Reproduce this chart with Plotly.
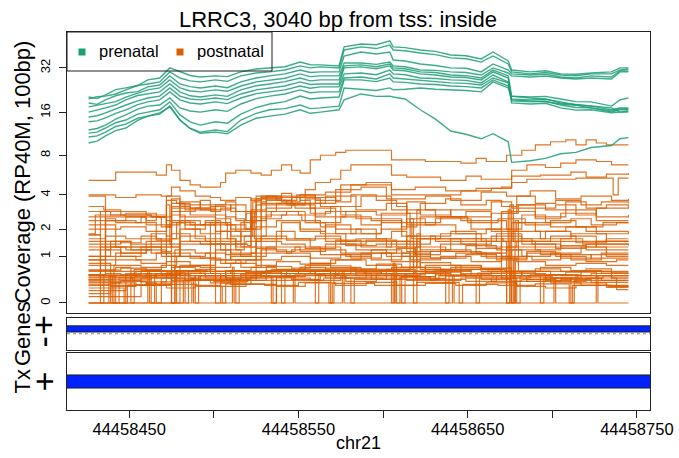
import math
import plotly.graph_objects as go

# ---------------- data ----------------
region_base = 44458400          # positions below are offsets from this base (bp)
chrom = "chr21"
title_text = "LRRC3, 3040 bp from tss: inside"
region_start_off = 26
region_end_off = 345

cov_ticks = [0, 1, 2, 4, 8, 16, 32]
pos_ticks = [44458450, 44458500, 44458550, 44458600, 44458650, 44458700, 44458750]
pos_tick_labels = ["44458450", "", "44458550", "", "44458650", "", "44458750"]

# prenatal coverage (RP40M, 100bp), sampled along the region
prenatal_pos = [26, 31, 36, 42, 48, 55, 61, 68, 74, 80, 86, 92, 101, 108, 116, 125, 133, 142, 151, 157,
                163, 174, 177, 187, 196, 204, 206, 213, 222, 231, 240, 249, 258, 265, 274, 276, 287, 296,
                305, 314, 323, 335, 340, 345]
prenatal_cov = [
    [20.4, 19.9, 21.1, 22.9, 23.5, 24.4, 26.6, 27.4, 32.0, 30.1, 28.5, 27.8, 28.3, 28.0, 30.1, 31.5, 32.0, 32.6, 35.0, 33.6,
     33.5, 33.0, 44.1, 46.1, 45.6, 48.3, 44.1, 43.6, 42.1, 41.2, 39.0, 38.5, 36.7, 40.8, 35.6, 31.0, 30.1, 30.6,
     29.2, 29.0, 29.6, 30.1, 32.0, 32.0],
    [19.8, 20.5, 20.7, 21.4, 22.8, 24.4, 25.0, 25.8, 30.1, 27.4, 26.2, 25.8, 26.6, 26.0, 28.3, 29.6, 30.1, 31.0, 33.0, 32.0,
     32.5, 32.0, 42.1, 44.1, 43.0, 45.4, 42.1, 41.6, 40.2, 39.2, 37.3, 36.8, 35.0, 38.4, 34.0, 30.1, 29.2, 29.8,
     28.7, 28.4, 29.2, 29.2, 31.0, 31.5],
    [18.6, 18.2, 19.5, 20.8, 21.7, 22.2, 23.9, 24.6, 28.3, 25.0, 24.0, 23.5, 24.2, 23.6, 25.8, 27.4, 28.3, 29.2, 31.0, 29.8,
     30.1, 30.1, 38.4, 40.8, 39.6, 40.8, 36.1, 35.6, 34.0, 33.2, 32.0, 31.8, 30.1, 34.0, 31.0, 29.2, 28.7, 29.0,
     27.8, 27.4, 28.3, 27.8, 30.5, 30.5],
    [17.5, 17.9, 18.3, 19.0, 20.4, 21.8, 22.8, 23.5, 26.6, 23.5, 22.4, 22.1, 22.8, 22.3, 24.2, 25.8, 26.6, 27.3, 29.2, 28.0,
     28.3, 28.3, 34.5, 34.5, 33.8, 35.0, 33.0, 32.6, 31.0, 30.8, 30.1, 29.8, 28.7, 32.0, 29.6, 28.3, 27.8, 28.2,
     27.4, 27.0, 27.4, 27.0, 30.1, 30.1],
    [16.1, 16.6, 17.2, 18.0, 19.5, 20.9, 21.4, 22.1, 25.0, 22.1, 20.8, 20.4, 21.1, 20.6, 22.8, 24.3, 25.0, 25.9, 27.4, 26.2,
     26.6, 26.6, 33.0, 33.5, 32.6, 34.0, 32.0, 31.6, 30.1, 29.8, 28.7, 28.4, 27.4, 31.0, 28.3, 20.7, 20.4, 20.6,
     19.8, 19.0, 18.9, 17.7, 19.5, 20.1],
    [14.9, 15.2, 15.9, 17.0, 18.0, 19.2, 20.1, 20.7, 23.5, 20.7, 19.8, 19.5, 20.1, 19.6, 21.4, 22.8, 23.5, 24.2, 25.8, 24.8,
     25.0, 25.0, 32.0, 32.5, 31.6, 33.0, 31.0, 30.6, 29.2, 28.7, 27.8, 27.6, 26.6, 30.1, 27.4, 19.8, 19.5, 19.7,
     18.9, 18.0, 17.7, 16.7, 17.2, 17.2],
    [13.8, 14.0, 14.7, 15.8, 16.7, 18.1, 18.9, 19.5, 22.1, 19.5, 18.6, 18.3, 18.9, 18.4, 20.1, 21.5, 22.1, 22.8, 24.2, 23.4,
     23.9, 23.9, 29.2, 29.6, 28.8, 31.0, 29.2, 28.8, 27.4, 27.2, 26.6, 26.4, 25.4, 28.7, 25.8, 19.2, 18.9, 19.1,
     18.0, 17.3, 17.2, 16.1, 16.7, 16.7],
    [12.1, 12.4, 13.1, 14.4, 15.4, 16.9, 17.7, 18.0, 20.1, 17.2, 16.4, 16.1, 16.7, 16.3, 18.3, 19.9, 20.7, 21.4, 22.8, 21.8,
     22.1, 22.1, 27.4, 27.8, 27.0, 29.2, 27.4, 27.0, 26.2, 26.0, 25.4, 25.2, 24.6, 27.4, 25.4, 18.6, 18.3, 18.5,
     17.2, 16.6, 16.7, 15.9, 16.1, 16.1],
    [11.5, 11.7, 12.5, 13.6, 14.2, 15.6, 16.1, 16.7, 18.9, 15.4, 13.8, 13.1, 13.8, 13.5, 15.6, 17.3, 18.3, 19.0, 20.7, 19.8,
     20.1, 20.4, 26.6, 26.6, 25.9, 27.4, 25.8, 25.6, 25.0, 24.8, 24.2, 24.0, 23.5, 26.6, 24.2, 20.7, 20.1, 19.8,
     18.6, 18.2, 17.7, 17.2, 16.1, 16.4],
    [10.8, 11.0, 11.7, 12.8, 13.3, 14.6, 15.1, 15.6, 17.7, 14.2, 12.4, 11.7, 12.1, 11.8, 14.2, 15.8, 16.7, 17.0, 18.0, 17.0,
     17.2, 17.7, 23.5, 23.1, 22.6, 23.5, 22.8, 23.0, 23.5, 23.0, 22.8, 22.6, 22.1, 25.8, 23.5, 19.5, 19.2, 19.0,
     18.3, 17.9, 17.2, 16.4, 17.0, 17.0],
    [9.8, 10.1, 11.0, 12.0, 12.5, 14.1, 15.1, 15.9, 17.5, 14.2, 12.4, 11.5, 11.7, 11.4, 13.1, 14.6, 15.1, 15.6, 16.7, 15.8,
     16.1, 16.7, 19.5, 21.4, 20.6, 20.7, 20.4, 19.8, 16.7, 14.4, 11.9, 11.3, 10.5, 11.4, 10.0, 7.1, 7.3, 7.6,
     8.2, 8.4, 9.1, 9.4, 10.5, 10.7],
]

# postnatal coverage: step breakpoints (offset bp, coverage)
postnatal_steps = [
    [(26,5.2),(42,6.0),(66,5.7),(72,6.8),(75,6.2),(80,5.2),(86,4.8),(92,4.6),(104,5.0),(107,5.9),(113,6.2),(122,5.9),(128,5.7),(134,6.2),(140,6.8),(146,6.2),(151,5.9),(157,7.4),(163,8.0),(172,8.4),(178,8.7),(205,7.4),(225,7.2),(246,7.0),(255,7.6),(261,7.2),(273,8.0),(282,8.7),(290,9.5),(299,10.0),(308,10.3),(314,9.5),(320,10.3),(326,9.8),(332,9.5),(345,9.5)],
    [(26,4.0),(42,3.8),(54,4.0),(69,3.9),(75,4.6),(80,4.3),(89,3.9),(98,3.8),(104,3.6),(113,3.8),(122,3.6),(128,3.9),(137,3.6),(146,3.8),(154,4.4),(160,5.0),(169,5.3),(175,6.2),(181,6.8),(205,5.7),(214,5.5),(234,5.2),(249,5.6),(258,5.3),(270,5.3),(276,6.2),(285,6.8),(296,6.5),(305,7.0),(314,7.4),(326,7.2),(335,6.8),(345,6.8)],
    [(26,3.2),(35,3.0),(45,2.7),(63,2.6),(75,3.4),(83,3.0),(101,3.3),(110,2.9),(122,3.7),(140,3.5),(151,4.0),(166,4.2),(181,4.8),(205,4.4),(219,4.6),(237,4.3),(255,4.5),(270,4.6),(276,5.6),(293,5.7),(311,6.0),(320,5.5),(332,5.8),(345,5.9)],
    [(26,2.9),(39,2.7),(48,2.8),(66,2.6),(72,3.6),(78,3.4),(86,3.1),(98,3.2),(107,2.6),(113,2.4),(119,2.8),(125,3.7),(140,3.9),(160,3.6),(175,4.8),(190,5.0),(205,4.0),(228,4.0),(246,4.3),(264,4.5),(276,5.0),(285,5.3),(314,5.4),(320,5.4),(336,4.0),(339,5.4),(345,5.4)],
    [(26,1.8),(30,2.7),(50,2.7),(63,2.6),(72,2.2),(80,3.5),(92,3.0),(110,3.3),(119,2.4),(128,3.8),(151,3.6),(157,2.8),(169,3.2),(187,3.9),(205,3.0),(222,2.7),(240,3.0),(264,3.5),(276,3.1),(302,3.3),(314,2.7),(326,3.1),(345,3.2)],
    [(26,1.75),(33,2.9),(60,2.7),(72,3.9),(80,2.6),(101,2.2),(119,2.0),(125,3.9),(140,4.1),(146,3.4),(166,3.9),(184,3.0),(202,3.4),(214,2.2),(231,2.5),(252,2.0),(270,2.9),(290,2.6),(308,3.0),(326,2.4),(345,2.4)],
    [(26,1.5),(36,2.5),(42,2.3),(57,2.6),(69,2.1),(75,3.2),(86,2.7),(101,2.5),(110,1.7),(116,2.3),(125,3.3),(148,3.1),(160,2.3),(175,2.6),(193,2.4),(211,1.7),(222,2.6),(246,2.4),(264,1.9),(279,2.3),(299,2.1),(320,1.9),(345,1.9)],
    [(26,1.4),(45,1.5),(51,1.3),(60,1.5),(75,2.7),(83,2.2),(95,2.4),(104,1.6),(113,1.3),(122,2.9),(137,3.4),(157,3.1),(172,2.0),(187,1.8),(199,2.3),(217,1.6),(234,1.8),(258,1.5),(276,1.9),(293,1.6),(311,1.8),(332,1.5),(345,1.5)],
    [(26,1.75),(30,1.75),(33,0.5),(36,2.4),(54,2.3),(66,1.6),(78,2.3),(89,1.6),(104,1.5),(116,1.7),(131,2.7),(143,2.9),(154,2.3),(166,1.5),(184,1.6),(202,1.3),(214,1.7),(231,1.5),(255,1.25),(270,1.6),(288,1.4),(305,1.3),(326,1.5),(345,1.5)],
    [(26,1.2),(39,1.3),(45,1.0),(57,1.3),(75,1.8),(86,1.5),(98,1.4),(110,1.1),(125,1.6),(140,2.3),(151,2.0),(163,1.8),(178,1.35),(196,1.4),(214,1.15),(234,1.4),(255,1.1),(273,1.3),(290,1.2),(305,1.35),(320,1.2),(345,1.2)],
    [(26,0.9),(42,1.1),(60,1.2),(72,1.0),(80,1.5),(92,1.4),(107,1.05),(122,1.3),(137,1.9),(148,1.6),(157,1.3),(175,1.1),(193,1.2),(211,1.0),(228,1.15),(249,1.35),(267,1.2),(282,1.0),(299,1.1),(317,1.3),(332,1.0),(345,1.0)],
    [(26,3.9),(33,3.9),(36,1.2),(45,1.1),(60,1.3),(69,1.15),(75,2.3),(83,2.0),(95,2.3),(110,2.0),(122,2.4),(131,3.1),(146,3.3),(160,2.6),(178,2.9),(196,2.7),(214,3.5),(225,3.0),(240,2.6),(264,2.8),(279,3.3),(290,2.5),(305,2.8),(326,2.6),(345,2.7)],
    [(26,2.6),(60,2.4),(66,2.6),(72,2.1),(75,3.1),(92,3.3),(107,3.5),(113,2.9),(122,2.0),(128,3.4),(146,3.8),(160,3.4),(172,4.4),(187,4.6),(202,3.7),(225,3.9),(240,3.6),(258,4.2),(273,3.9),(287,4.3),(302,3.7),(317,3.9),(335,3.6),(345,3.7)],
    [(26,0.52),(48,0.55),(63,0.5),(75,0.7),(89,0.65),(101,0.5),(116,0.55),(125,0.9),(140,1.0),(157,0.8),(172,0.9),(190,0.75),(208,0.6),(225,0.75),(246,0.55),(264,0.6),(282,0.5),(299,0.45),(317,0.5),(345,0.5)],
    [(26,0.47),(42,0.47),(54,0.6),(69,0.52),(80,0.75),(98,0.6),(107,0.45),(119,0.5),(131,0.62),(151,0.7),(166,0.6),(184,0.5),(202,0.65),(219,0.55),(240,0.7),(258,0.6),(276,0.55),(296,0.4),(311,0.45),(329,0.4),(345,0.4)],
    [(26,0.41),(39,0.41),(51,0.5),(66,0.45),(78,0.62),(92,0.55),(104,0.42),(116,0.47),(128,0.55),(143,0.6),(160,0.5),(178,0.45),(196,0.55),(214,0.48),(231,0.62),(252,0.5),(270,0.45),(287,0.52),(305,0.5),(323,0.55),(345,0.55)],
    [(26,0.37),(45,0.4),(57,0.37),(72,0.52),(86,0.45),(101,0.4),(113,0.0),(115,0.4),(131,0.47),(148,0.52),(166,0.45),(181,0.0),(183,0.42),(202,0.5),(219,0.44),(237,0.5),(258,0.42),(276,0.0),(278,0.38),(296,0.45),(314,0.35),(332,0.3),(345,0.3)],
    [(26,0.31),(39,0.35),(54,0.31),(69,0.45),(83,0.4),(98,0.35),(110,0.4),(125,0.6),(140,0.55),(157,0.62),(172,0.52),(190,0.6),(208,0.52),(225,0.58),(246,0.52),(264,0.5),(282,0.6),(299,0.52),(317,0.6),(335,0.45),(345,0.45)],
    [(26,0.2),(42,0.2),(48,0.52),(66,0.5),(78,0.56),(95,0.5),(107,0.62),(122,0.7),(137,0.64),(154,0.75),(169,0.7),(187,0.62),(205,0.7),(222,0.82),(240,0.75),(258,0.68),(276,0.6),(293,0.7),(311,0.62),(329,0.56),(345,0.56)],
    [(26,0.8),(36,0.8),(39,0.0),(41,0.75),(57,0.7),(72,0.85),(86,0.75),(101,0.9),(116,0.7),(128,1.1),(146,1.2),(163,1.05),(181,0.95),(199,1.1),(216,0.9),(234,1.0),(252,0.85),(270,1.0),(288,0.9),(305,1.05),(323,0.95),(345,0.95)],
    [(26,0.63),(45,0.68),(60,0.6),(75,0.0),(77,0.72),(92,0.7),(110,0.8),(125,0.75),(137,0.85),(151,0.78),(169,0.9),(187,1.1),(205,0.85),(222,0.95),(243,1.1),(261,0.95),(279,0.85),(296,0.75),(314,0.8),(332,0.75),(345,0.75)],
    [(26,0.1),(54,0.1),(57,0.45),(75,0.4),(92,0.5),(107,0.42),(122,0.5),(134,0.0),(137,0.48),(154,0.55),(172,0.45),(190,0.52),(208,0.0),(210,0.47),(228,0.4),(246,0.45),(264,0.38),(282,0.42),(299,0.35),(317,0.3),(335,0.28),(345,0.28)],
    [(26,0.0),(45,0.0),(48,0.3),(60,0.35),(66,0.0),(69,0.37),(86,0.42),(104,0.35),(119,0.45),(131,0.5),(146,0.42),(163,0.5),(178,0.38),(196,0.45),(214,0.4),(231,0.52),(249,0.45),(267,0.5),(285,0.42),(302,0.38),(320,0.45),(338,0.22),(345,0.22)],
    [(26,0.0),(37,0.0),(38,0.5),(40,0.0),(60,0.0),(61,0.6),(62,0.0),(86,0.0),(87,0.45),(88,0.0),(110,0.0),(111,0.7),(112,0.0),(146,0.0),(147,0.5),(148,0.0),(175,0.0),(176,0.6),(177,0.0),(205,0.0),(206,0.8),(207,0.0),(240,0.0),(241,0.5),(242,0.0),(276,0.0),(277,0.9),(278,0.0),(300,0.0),(301,0.45),(302,0.0),(325,0.0),(326,0.5),(327,0.0),(345,0.0)],
    [(26,0.52),(33,0.0),(35,0.5),(54,0.48),(63,0.0),(65,0.52),(78,0.0),(80,0.55),(95,0.5),(101,0.0),(104,0.5),(128,0.58),(140,0.0),(142,0.55),(160,0.6),(169,0.0),(171,0.55),(193,0.5),(211,0.0),(213,0.55),(234,0.5),(255,0.0),(257,0.5),(273,0.45),(279,0.0),(281,0.5),(299,0.45),(311,0.0),(313,0.4),(345,0.4)],
    [(26,1.0),(36,1.0),(39,1.5),(51,1.4),(63,1.6),(69,1.0),(80,1.7),(95,1.5),(104,1.2),(110,0.9),(125,1.5),(140,1.4),(154,1.25),(172,1.55),(187,1.3),(205,1.5),(222,1.2),(240,1.6),(261,1.3),(279,1.5),(299,1.7),(314,1.45),(332,1.6),(345,1.6)],
    [(26,0.75),(42,0.9),(57,0.8),(72,1.1),(86,0.95),(101,1.2),(116,1.0),(131,1.3),(151,1.15),(166,1.4),(184,1.2),(202,1.0),(219,1.3),(237,1.15),(258,1.0),(276,1.2),(293,1.05),(311,0.9),(329,1.1),(345,1.1)],
    [(26,2.2),(36,2.2),(42,1.3),(51,1.2),(63,1.4),(75,1.3),(80,2.0),(92,1.8),(104,1.9),(116,1.3),(125,2.1),(137,2.4),(151,1.9),(166,2.2),(181,1.8),(199,2.0),(214,2.5),(225,2.2),(243,1.8),(261,2.0),(276,2.3),(290,1.9),(308,2.1),(326,1.8),(345,1.9)],
    [(26,1.0),(45,1.0),(54,0.9),(66,1.1),(75,0.0),(77,1.2),(89,1.1),(98,0.9),(110,1.0),(122,1.1),(128,1.7),(143,1.55),(160,1.7),(175,1.4),(190,1.55),(208,1.3),(222,1.6),(246,1.4),(264,1.7),(282,1.4),(302,1.25),(320,1.4),(345,1.35)],
    [(26,0.41),(30,0.41),(33,1.3),(48,1.2),(63,1.1),(72,1.3),(80,1.0),(95,1.1),(107,0.8),(119,0.9),(128,1.2),(143,1.1),(157,0.95),(175,1.05),(193,0.9),(211,1.1),(228,0.95),(249,1.05),(267,0.9),(285,1.1),(305,0.95),(323,1.05),(345,1.05)],
    [(26,0.35),(45,0.38),(60,0.33),(75,0.45),(92,0.4),(110,0.32),(122,0.4),(137,0.45),(157,0.4),(175,0.5),(193,0.42),(211,0.48),(231,0.42),(249,0.38),(267,0.45),(285,0.38),(305,0.42),(323,0.36),(345,0.36)],
    [(26,0.45),(39,0.5),(51,0.45),(66,0.55),(80,0.5),(95,0.45),(107,0.5),(119,0.58),(134,0.65),(148,0.6),(166,0.68),(184,0.58),(199,0.62),(216,0.7),(234,0.6),(252,0.65),(270,0.58),(290,0.52),(308,0.58),(326,0.5),(345,0.5)],
    [(26,0.15),(36,0.15),(39,0.28),(54,0.3),(72,0.25),(89,0.3),(104,0.28),(119,0.32),(137,0.28),(154,0.35),(172,0.3),(190,0.36),(208,0.3),(225,0.34),(243,0.3),(261,0.35),(279,0.28),(296,0.25),(314,0.3),(332,0.26),(345,0.26)],
    [(26,0.5),(42,0.0),(44,0.45),(60,0.55),(75,0.5),(89,0.0),(91,0.5),(107,0.45),(125,0.55),(143,0.5),(160,0.0),(162,0.55),(181,0.6),(199,0.55),(219,0.6),(237,0.0),(239,0.5),(258,0.55),(276,0.5),(293,0.0),(295,0.45),(314,0.5),(335,0.45),(345,0.45)],
    [(26,0.6),(60,0.62),(96,0.6),(98,2.3),(101,0.6),(150,0.65),(215,0.65),(216,2.5),(218,0.7),(220,1.8),(222,0.65),(272,0.6),(274,3.0),(276,0.0),(278,2.4),(280,0.6),(345,0.6)],
    [(26,1.3),(70,1.3),(72,3.3),(74,1.4),(120,1.35),(122,2.9),(124,1.6),(175,1.5),(217,1.5),(218,0.0),(220,1.6),(271,1.5),(273,0.0),(275,3.3),(277,1.5),(345,1.5)],
    [(26,2.4),(40,2.4),(48,2.6),(60,2.2),(75,3.7),(80,3.3),(92,3.6),(98,2.9),(104,3.1),(113,2.5),(118,2.0),(123,3.5),(131,3.9),(140,3.6),(149,4.0),(160,3.8),(172,3.5),(181,4.0),(196,3.6),(208,3.2),(214,2.8),(222,3.4),(237,3.7),(246,3.3),(261,3.6),(270,3.2),(279,3.9),(290,3.4),(302,3.6),(317,3.3),(329,3.5),(345,3.4)],
    [(26,1.6),(36,1.7),(48,1.6),(63,1.8),(72,1.7),(75,2.9),(89,3.1),(101,2.7),(107,2.2),(113,1.9),(122,3.0),(131,3.6),(143,3.3),(154,3.7),(163,3.2),(175,2.7),(187,2.2),(199,2.5),(211,2.1),(220,3.0),(231,2.6),(249,2.9),(264,2.4),(273,2.0),(282,2.7),(296,2.3),(311,2.5),(323,2.2),(338,2.3),(345,2.3)],
    [(26,0.9),(33,0.9),(36,1.5),(45,1.45),(57,1.7),(66,1.55),(75,1.6),(80,2.4),(92,2.2),(101,1.9),(110,1.4),(119,1.5),(128,2.5),(140,2.7),(152,2.4),(163,2.1),(172,1.8),(184,2.0),(196,1.6),(205,1.9),(214,1.4),(228,1.7),(240,1.9),(255,1.5),(267,1.8),(282,1.6),(296,1.9),(311,1.7),(326,1.3),(345,1.3)],
    [(26,0.63),(42,0.7),(51,0.0),(53,0.65),(69,0.75),(78,1.0),(92,0.95),(104,0.8),(113,0.9),(125,1.25),(137,1.15),(148,1.3),(163,1.2),(178,1.0),(193,1.1),(208,1.25),(219,1.05),(234,1.2),(252,1.1),(270,0.95),(285,1.15),(302,1.0),(320,0.85),(338,0.9),(345,0.9)],
    [(26,0.52),(36,0.55),(45,0.52),(57,0.62),(72,0.58),(83,0.0),(85,0.6),(98,0.55),(110,0.62),(119,0.58),(131,0.72),(146,0.68),(157,0.8),(169,0.74),(181,0.66),(196,0.78),(211,0.7),(225,0.64),(243,0.74),(258,0.66),(273,0.0),(275,0.6),(290,0.66),(305,0.6),(320,0.66),(335,0.58),(345,0.58)],
    [(26,0.41),(40,0.45),(52,0.41),(63,0.47),(77,0.43),(89,0.5),(101,0.45),(116,0.52),(128,0.48),(145,0.55),(160,0.52),(174,0.6),(189,0.55),(205,0.0),(207,0.5),(222,0.56),(240,0.5),(256,0.56),(270,0.5),(286,0.47),(300,0.52),(315,0.44),(330,0.5),(345,0.5)],
    [(26,0.3),(50,0.3),(75,0.6),(110,0.55),(150,0.62),(190,0.6),(230,0.65),(262,0.6),(270,2.8),(280,3.3),(296,3.0),(308,3.5),(320,3.1),(332,3.3),(345,3.2)],
    [(26,0.0),(80,0.0),(82,0.4),(100,0.38),(120,0.45),(135,0.0),(137,0.4),(165,0.45),(200,0.42),(233,0.5),(265,0.45),(275,1.5),(290,1.3),(305,1.6),(318,1.4),(345,1.4)],
    [(26,2.0),(45,2.1),(60,1.9),(72,2.4),(86,2.2),(101,2.3),(108,1.6),(113,1.2),(118,1.7),(123,2.6),(134,2.9),(150,2.7),(166,2.9),(184,2.5),(199,2.8),(216,2.3),(234,2.6),(250,2.3),(268,2.5),(284,2.2),(299,2.4),(314,2.1),(330,2.3),(345,2.3)],
    [(26,0.25),(44,0.25),(47,0.0),(49,0.3),(70,0.32),(90,0.28),(105,0.0),(107,0.33),(130,0.3),(150,0.36),(168,0.0),(170,0.34),(195,0.3),(220,0.36),(245,0.0),(247,0.32),(268,0.3),(290,0.33),(310,0.0),(312,0.3),(333,0.28),(345,0.28)],
]

# annotation tracks: gene and transcript (both + strand) spanning the region
gene_start, gene_end = 44455386, 44472345
tx_start, tx_end = 44455386, 44472345

# ---------------- figure ----------------
W, H = 679, 458
FONT = "Liberation Sans, Arial, Helvetica, sans-serif"
GREEN = "rgba(27,158,119,0.85)"
ORANGE = "rgba(217,95,2,0.85)"


def px_x(p):
    return p / W


def px_y(p):
    return 1 - p / H


def tr(v):
    return math.log2(v + 1)


span = region_end_off - region_start_off
x_range = [region_base + region_start_off - 0.04 * span, region_base + region_end_off + 0.04 * span]

fig = go.Figure()

for steps in postnatal_steps:
    fig.add_trace(go.Scatter(
        x=[region_base + p for p, v in steps], y=[tr(v) for p, v in steps],
        mode="lines", line=dict(color=ORANGE, width=1.2, shape="hv"),
        xaxis="x", yaxis="y", showlegend=False, hoverinfo="skip"))

for vals in prenatal_cov:
    fig.add_trace(go.Scatter(
        x=[region_base + p for p in prenatal_pos], y=[tr(v) for v in vals],
        mode="lines", line=dict(color=GREEN, width=1.4),
        xaxis="x", yaxis="y", showlegend=False, hoverinfo="skip"))

# gene track (+ strand)
fig.add_trace(go.Scatter(
    x=[gene_start, gene_end, gene_end, gene_start, gene_start], y=[0.2, 0.2, 0.9, 0.9, 0.2],
    mode="lines", fill="toself", fillcolor="#0022ff", line=dict(color="#222", width=1),
    xaxis="x2", yaxis="y2", showlegend=False, hoverinfo="skip"))
# transcript track (+ strand)
fig.add_trace(go.Scatter(
    x=[tx_start, tx_end, tx_end, tx_start, tx_start], y=[-0.23, -0.23, 0.23, 0.23, -0.23],
    mode="lines", fill="toself", fillcolor="#0022ff", line=dict(color="#222", width=1),
    xaxis="x3", yaxis="y3", showlegend=False, hoverinfo="skip"))

dom_x = [px_x(67), px_x(650)]
box = dict(showline=True, mirror=True, linecolor="#222", linewidth=1, showgrid=False,
           zeroline=False, automargin=False)

fig.update_layout(
    width=W, height=H, margin=dict(l=0, r=0, t=0, b=0, pad=0), autosize=False,
    paper_bgcolor="white", plot_bgcolor="white",
    font=dict(family=FONT, color="black"),
    xaxis=dict(domain=dom_x, anchor="y", range=x_range, showticklabels=False, ticks="", **box),
    yaxis=dict(domain=[px_y(313), px_y(32)], anchor="x", range=[-0.215, 5.815],
               tickvals=[tr(v) for v in cov_ticks], ticktext=[str(v) for v in cov_ticks],
               tickangle=-90, ticks="outside", ticklen=7, tickcolor="#222",
               tickfont=dict(size=13, family=FONT), ticklabelstandoff=4, **box),
    xaxis2=dict(domain=dom_x, anchor="y2", range=x_range, matches="x", showticklabels=False, ticks="", **box),
    yaxis2=dict(domain=[px_y(350), px_y(318)], anchor="x2", range=[-1.86, 1.8],
                showticklabels=False, ticks="", **box),
    xaxis3=dict(domain=dom_x, anchor="y3", range=x_range, matches="x",
                tickvals=pos_ticks, ticktext=pos_tick_labels, ticks="outside", ticklen=7,
                tickcolor="#222", tickfont=dict(size=16.5, family=FONT), ticklabelstandoff=-3, **box),
    yaxis3=dict(domain=[px_y(410), px_y(353)], anchor="x3", range=[-1, 1],
                showticklabels=False, ticks="", **box),
)

# dotted strand separator in gene track
fig.add_shape(type="line", xref="x2 domain", x0=0, x1=1, yref="y2", y0=0, y1=0,
              line=dict(color="#888", width=1.2, dash="dot"))

# legend (box, keys, labels)
fig.add_shape(type="rect", xref="paper", yref="paper", x0=px_x(67), x1=px_x(272),
              y0=px_y(71), y1=px_y(32), line=dict(color="#222", width=1))
for cx, col, lab in [(82, "#1B9E77", "prenatal"), (180, "#D95F02", "postnatal")]:
    fig.add_shape(type="rect", xref="paper", yref="paper", x0=px_x(cx - 3.5), x1=px_x(cx + 3.5),
                  y0=px_y(55.5), y1=px_y(48.5), line=dict(width=0), fillcolor=col)
    fig.add_annotation(text=lab, xref="paper", yref="paper", x=px_x(cx + 15), y=px_y(51.5),
                       xanchor="left", yanchor="middle", showarrow=False,
                       font=dict(size=16.5, family=FONT))

ann = [
    dict(text=title_text, x=px_x(338), y=px_y(19), size=22, angle=0),
    dict(text="Coverage (RP40M, 100bp)", x=px_x(22), y=px_y(172.5), size=22, angle=-90),
    dict(text="Genes", x=px_x(22), y=px_y(334), size=22, angle=-90),
    dict(text="Tx", x=px_x(22), y=px_y(381.5), size=22, angle=-90),
    dict(text=chrom, x=px_x(358.5), y=px_y(443), size=18, angle=0),
]
for a in ann:
    fig.add_annotation(text=a["text"], xref="paper", yref="paper", x=a["x"], y=a["y"],
                       xanchor="center", yanchor="middle", showarrow=False, textangle=a["angle"],
                       font=dict(size=a["size"], family=FONT))

# strand labels
for txt, yref, yv in [("+", "y2", 1), ("-", "y2", -1), ("+", "y3", 0)]:
    fig.add_annotation(text=txt, xref="paper", yref=yref, x=px_x(43), y=yv,
                       xanchor="center", yanchor="middle", showarrow=False, textangle=-90,
                       font=dict(size=34, family=FONT))

fig.write_html("out.html", config={"responsive": False})
